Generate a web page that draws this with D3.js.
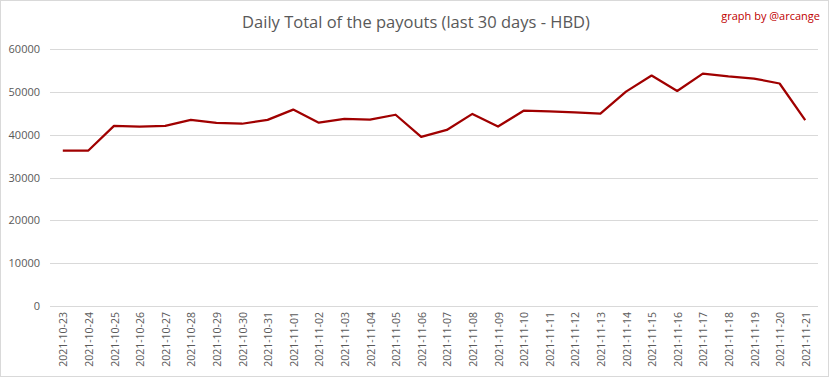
<!DOCTYPE html>
<html>
<head>
<meta charset="utf-8">
<script src="https://cdn.jsdelivr.net/npm/d3@7"></script>
<style>
  body { margin: 0; background: #fff; }
  svg { display: block; }
</style>
</head>
<body>
<svg id="chart" width="833" height="379"></svg>
<script>
// daily payout totals
const dates = [
  '2021-10-23', '2021-10-24', '2021-10-25', '2021-10-26', '2021-10-27',
  '2021-10-28', '2021-10-29', '2021-10-30', '2021-10-31', '2021-11-01',
  '2021-11-02', '2021-11-03', '2021-11-04', '2021-11-05', '2021-11-06',
  '2021-11-07', '2021-11-08', '2021-11-09', '2021-11-10', '2021-11-11',
  '2021-11-12', '2021-11-13', '2021-11-14', '2021-11-15', '2021-11-16',
  '2021-11-17', '2021-11-18', '2021-11-19', '2021-11-20', '2021-11-21'
];
const payouts = [
  36300, 36300, 42050, 41900, 42050,
  43450, 42750, 42550, 43450, 45850,
  42800, 43700, 43500, 44650, 39500,
  41100, 44850, 41900, 45600, 45450,
  45200, 44900, 50050, 53800, 50200,
  54250, 53600, 53100, 51950, 43400
];
const yTicks = [0, 10000, 20000, 30000, 40000, 50000, 60000];

const svg = d3.select('#chart');
const margin = {top: 49, right: 15, bottom: 73, left: 50};
const width = 833, height = 379;

// outer frame
svg.append('rect')
  .attr('x', 0.5).attr('y', 0.5)
  .attr('width', 828).attr('height', 376)
  .attr('fill', '#fff')
  .attr('stroke', '#d9d9d9');

const x = d3.scalePoint()
  .domain(dates)
  .range([margin.left, width - margin.right])
  .padding(0.5);

const y = d3.scaleLinear()
  .domain([0, 60000])
  .range([height - margin.bottom, margin.top]);

// gridlines
svg.append('g')
  .selectAll('line')
  .data(yTicks)
  .join('line')
  .attr('x1', margin.left)
  .attr('x2', width - margin.right)
  .attr('y1', d => Math.round(y(d)) + 0.5)
  .attr('y2', d => Math.round(y(d)) + 0.5)
  .attr('stroke', '#d9d9d9')
  .attr('stroke-width', 1);

// y axis labels
const yAxis = svg.append('g')
  .attr('transform', `translate(${margin.left - 10},0)`)
  .call(d3.axisLeft(y).tickValues(yTicks).tickSize(0).tickPadding(0).tickFormat(d3.format('d')));
yAxis.select('.domain').remove();
yAxis.selectAll('text')
  .attr('font-family', 'Open Sans, sans-serif')
  .attr('font-size', 11)
  .attr('fill', '#595959');

// x axis labels, rotated
const xAxis = svg.append('g')
  .attr('transform', `translate(0,${height - margin.bottom})`)
  .call(d3.axisBottom(x).tickSize(0));
xAxis.select('.domain').remove();
xAxis.selectAll('text')
  .attr('font-family', 'Open Sans, sans-serif')
  .attr('font-size', 10.5)
  .attr('fill', '#595959')
  .attr('text-anchor', 'end')
  .attr('dy', null)
  .attr('transform', 'rotate(-90)')
  .attr('x', -6)
  .attr('y', 0)
  .attr('dominant-baseline', 'central');

// series line
const line = d3.line()
  .x((d, i) => x(dates[i]))
  .y(d => y(d));

svg.append('path')
  .datum(payouts)
  .attr('d', line)
  .attr('fill', 'none')
  .attr('stroke', '#a00000')
  .attr('stroke-width', 2.25)
  .attr('stroke-linejoin', 'round');

// title
svg.append('text')
  .attr('x', 416)
  .attr('y', 28)
  .attr('text-anchor', 'middle')
  .attr('font-family', 'Open Sans, sans-serif')
  .attr('font-size', 16.5)
  .attr('fill', '#595959')
  .text('Daily Total of the payouts (last 30 days - HBD)');

svg.append('text')
  .attr('x', 820)
  .attr('y', 20)
  .attr('text-anchor', 'end')
  .attr('font-family', 'Open Sans, sans-serif')
  .attr('font-size', 11)
  .attr('fill', '#c00000')
  .text('graph by @arcange');
</script>
</body>
</html>
